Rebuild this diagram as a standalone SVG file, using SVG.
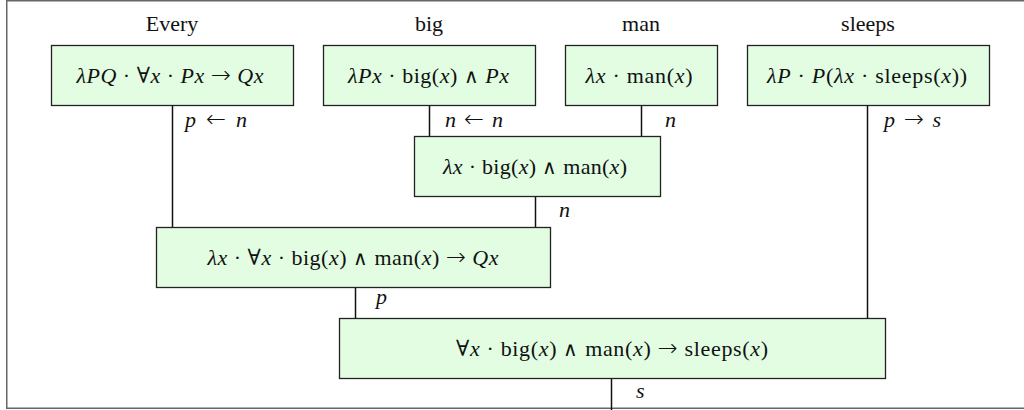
<svg xmlns="http://www.w3.org/2000/svg" width="1024" height="410" viewBox="0 0 1024 410">
<style>
.box{fill:#e2fde2;stroke:#222;stroke-width:1.3}
.t{font-family:"Liberation Serif","DejaVu Serif",serif;font-size:22px;fill:#111;text-anchor:middle}
.lab{font-family:"Liberation Serif","DejaVu Serif",serif;font-size:22px;fill:#111}
.i{font-style:italic}
.o{font-family:"DejaVu Sans",sans-serif;font-size:20px;font-weight:200}
.a{font-family:"DejaVu Sans",sans-serif;font-size:24px;font-weight:200}
.c{stroke:#111;stroke-width:1.5;fill:none}
</style>
<rect width="1024" height="410" fill="#fff"/>
<path d="M1025 0.75H6.75V408.25H1025" fill="none" stroke="#666" stroke-width="1.5"/>
<g id="words">
<text class="t" x="172" y="31">Every</text>
<text class="t" x="429" y="31">big</text>
<text class="t" x="641" y="31">man</text>
<text class="t" x="868" y="31">sleeps</text>
</g>
<g id="connectors">
<line class="c" x1="172.5" y1="106" x2="172.5" y2="227"/>
<line class="c" x1="429.5" y1="106" x2="429.5" y2="137"/>
<line class="c" x1="641.5" y1="106" x2="641.5" y2="137"/>
<line class="c" x1="535.5" y1="197" x2="535.5" y2="227"/>
<line class="c" x1="355.5" y1="287" x2="355.5" y2="318"/>
<line class="c" x1="867.5" y1="106" x2="867.5" y2="318"/>
<line class="c" x1="611.5" y1="378" x2="611.5" y2="410"/>
<text class="lab" x="185" y="127" textLength="62" lengthAdjust="spacing"><tspan class="i">p</tspan> <tspan class="a">←</tspan> <tspan class="i">n</tspan></text>
<text class="lab" x="445" y="127" textLength="58" lengthAdjust="spacing"><tspan class="i">n</tspan> <tspan class="a">←</tspan> <tspan class="i">n</tspan></text>
<text class="lab" x="665" y="127"><tspan class="i">n</tspan></text>
<text class="lab" x="559" y="217"><tspan class="i">n</tspan></text>
<text class="lab" x="376" y="304"><tspan class="i">p</tspan></text>
<text class="lab" x="884" y="127" textLength="57" lengthAdjust="spacing"><tspan class="i">p</tspan> <tspan class="a">→</tspan> <tspan class="i">s</tspan></text>
<text class="lab" x="636" y="398"><tspan class="i">s</tspan></text>
</g>
<g id="every">
<rect class="box" x="51.5" y="45.5" width="242" height="60"/>
<text class="t" x="170" y="83" textLength="187" lengthAdjust="spacing"><tspan class="i">λPQ</tspan> · ∀<tspan class="i">x</tspan> · <tspan class="i">Px</tspan> <tspan class="a">→</tspan> <tspan class="i">Qx</tspan></text>
</g>
<g id="big">
<rect class="box" x="323.5" y="45.5" width="212" height="60"/>
<text class="t" x="428.5" y="83" textLength="161" lengthAdjust="spacing"><tspan class="i">λPx</tspan> · big(<tspan class="i">x</tspan>) <tspan class="o">∧</tspan> <tspan class="i">Px</tspan></text>
</g>
<g id="man">
<rect class="box" x="565.5" y="45.5" width="152" height="60"/>
<text class="t" x="639" y="83" textLength="107" lengthAdjust="spacing"><tspan class="i">λx</tspan> · man(<tspan class="i">x</tspan>)</text>
</g>
<g id="sleeps">
<rect class="box" x="747.5" y="45.5" width="242" height="60"/>
<text class="t" x="867" y="83" textLength="200" lengthAdjust="spacing"><tspan class="i">λP</tspan> · <tspan class="i">P</tspan>(<tspan class="i">λx</tspan> · sleeps(<tspan class="i">x</tspan>))</text>
</g>
<g id="bigman">
<rect class="box" x="414.5" y="136.5" width="246" height="60"/>
<text class="t" x="535" y="174" textLength="184" lengthAdjust="spacing"><tspan class="i">λx</tspan> · big(<tspan class="i">x</tspan>) <tspan class="o">∧</tspan> man(<tspan class="i">x</tspan>)</text>
</g>
<g id="everybigman">
<rect class="box" x="156.5" y="227.5" width="394" height="60"/>
<text class="t" x="353" y="265" textLength="291" lengthAdjust="spacing"><tspan class="i">λx</tspan> · ∀<tspan class="i">x</tspan> · big(<tspan class="i">x</tspan>) <tspan class="o">∧</tspan> man(<tspan class="i">x</tspan>) <tspan class="a">→</tspan> <tspan class="i">Qx</tspan></text>
</g>
<g id="result">
<rect class="box" x="339.5" y="318.5" width="546" height="60"/>
<text class="t" x="612" y="356" textLength="312" lengthAdjust="spacing">∀<tspan class="i">x</tspan> · big(<tspan class="i">x</tspan>) <tspan class="o">∧</tspan> man(<tspan class="i">x</tspan>) <tspan class="a">→</tspan> sleeps(<tspan class="i">x</tspan>)</text>
</g>
</svg>
